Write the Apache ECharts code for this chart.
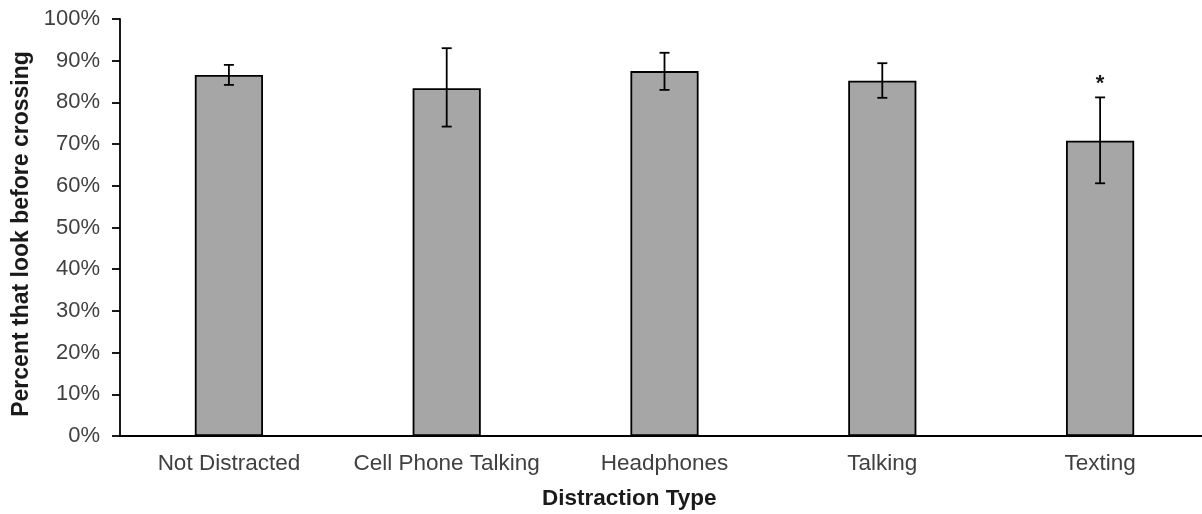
<!DOCTYPE html>
<html><head><meta charset="utf-8">
<script src="https://cdn.jsdelivr.net/npm/echarts@6/dist/echarts.min.js"></script>
<style>html,body{margin:0;padding:0;background:#fff}#c{width:1202px;height:514px}</style>
</head><body><div id="c"></div>
<script>
const categories = ['Not Distracted', 'Cell Phone Talking', 'Headphones', 'Talking', 'Texting'];
const values = [86.6, 83.4, 87.5, 85.2, 70.8];
const errLow = [84.2, 74.2, 83.0, 81.1, 60.6];
const errHigh = [89.0, 93.0, 91.9, 89.4, 81.2];
const marks = ['', '', '', '', '*'];
const yTicks = [0, 10, 20, 30, 40, 50, 60, 70, 80, 90, 100];
const xTitle = 'Distraction Type';
const yTitle = 'Percent that look before crossing';

const chart = echarts.init(document.getElementById('c'), null, {renderer: 'canvas'});
const font = '"Liberation Sans", Arial, sans-serif';
chart.setOption({
  animation: false,
  grid: {left: 120, right: -7, top: 19, bottom: 78, containLabel: false, outerBoundsMode: 'none'},
  graphic: [
    {type: 'text', left: 630 - 88, top: 487,
      style: {text: xTitle, fill: '#1a1a1a', font: 'bold 22.5px ' + font}},
    {type: 'text', x: 22, y: 234, rotation: Math.PI / 2,
      style: {text: yTitle, fill: '#1a1a1a', font: 'bold 23px ' + font, align: 'center', verticalAlign: 'middle'}}
  ],
  xAxis: {
    type: 'category', data: categories,
    axisLine: {lineStyle: {color: '#000', width: 1.8}},
    axisTick: {show: false},
    axisLabel: {color: '#404040', fontSize: 22.5, fontFamily: font, margin: 16, interval: 0, hideOverlap: false}
  },
  yAxis: {
    type: 'value', min: 0, max: 100, interval: 10,
    axisLine: {show: true, lineStyle: {color: '#000', width: 1.8}},
    axisTick: {show: true, inside: false, length: 8, lineStyle: {color: '#000', width: 1.8}},
    splitLine: {show: false},
    axisLabel: {color: '#404040', fontSize: 22, fontFamily: font, margin: 20,
      formatter: v => yTicks.includes(v) ? v + '%' : ''}
  },
  series: [
    {
      type: 'bar', data: values, barWidth: '31.3%',
      itemStyle: {color: '#a6a6a6', borderColor: '#000', borderWidth: 1.8}
    },
    {
      type: 'custom',
      data: categories.map((c, i) => [i, errLow[i], errHigh[i]]),
      renderItem: function (params, api) {
        const i = api.value(0);
        const lo = api.coord([i, api.value(1)]);
        const hi = api.coord([i, api.value(2)]);
        const cap = 5;
        const st = {stroke: '#000', lineWidth: 1.8};
        const children = [
          {type: 'line', shape: {x1: hi[0], y1: hi[1], x2: lo[0], y2: lo[1]}, style: st},
          {type: 'line', shape: {x1: hi[0] - cap, y1: hi[1], x2: hi[0] + cap, y2: hi[1]}, style: st},
          {type: 'line', shape: {x1: lo[0] - cap, y1: lo[1], x2: lo[0] + cap, y2: lo[1]}, style: st}
        ];
        if (marks[i]) {
          children.push({type: 'text', x: hi[0], y: hi[1] - 13,
            style: {text: marks[i], fill: '#1a1a1a', font: 'bold 22px ' + font, align: 'center', verticalAlign: 'middle'}});
        }
        return {type: 'group', children: children};
      },
      z: 10
    }
  ]
});
</script></body></html>
